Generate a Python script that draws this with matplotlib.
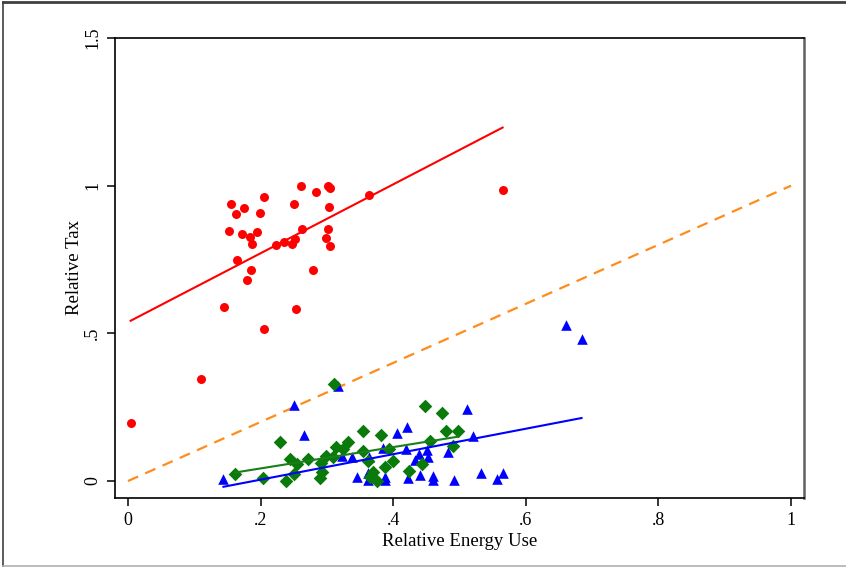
import numpy as np
import matplotlib
matplotlib.use("Agg")
import matplotlib.pyplot as plt
from matplotlib.lines import Line2D

plt.rcParams['font.family'] = ['Liberation Serif', 'DejaVu Serif']

# red circles
red_x = [0.155, 0.163, 0.175, 0.205, 0.199, 0.261, 0.283, 0.302, 0.304, 0.251,
         0.303, 0.364, 0.153, 0.172, 0.184, 0.195, 0.187, 0.223, 0.236, 0.247,
         0.252, 0.262, 0.302, 0.298, 0.305, 0.164, 0.186, 0.180, 0.279, 0.145,
         0.253, 0.205, 0.110, 0.004, 0.565]
red_y = [0.937, 0.905, 0.923, 0.963, 0.909, 1.000, 0.977, 1.000, 0.992, 0.938,
         0.927, 0.969, 0.847, 0.835, 0.825, 0.842, 0.804, 0.800, 0.808, 0.804,
         0.820, 0.855, 0.855, 0.823, 0.796, 0.750, 0.715, 0.680, 0.716, 0.589,
         0.581, 0.514, 0.346, 0.198, 0.985]

# blue triangles
blue_x = [0.144, 0.250, 0.265, 0.317, 0.421, 0.406, 0.385, 0.420, 0.451, 0.483,
          0.323, 0.338, 0.363, 0.439, 0.433, 0.453, 0.346, 0.362, 0.370, 0.362,
          0.388, 0.387, 0.423, 0.440, 0.460, 0.460, 0.492, 0.512, 0.521, 0.533,
          0.556, 0.565, 0.660, 0.684]
blue_y = [0.007, 0.258, 0.155, 0.322, 0.183, 0.162, 0.113, 0.108, 0.105, 0.097,
          0.084, 0.082, 0.080, 0.091, 0.071, 0.080, 0.015, 0.026, 0.015, 0.003,
          0.013, 0.003, 0.009, 0.020, 0.017, 0.003, 0.003, 0.243, 0.152, 0.026,
          0.006, 0.026, 0.529, 0.482]

# green diamonds
green_x = [0.162, 0.204, 0.238, 0.250, 0.244, 0.255, 0.271, 0.230, 0.291, 0.293,
           0.290, 0.310, 0.448, 0.474, 0.355, 0.381, 0.479, 0.498, 0.332, 0.314,
           0.325, 0.355, 0.394, 0.456, 0.490, 0.299, 0.309, 0.362, 0.399, 0.444,
           0.387, 0.369, 0.424, 0.376, 0.365]
green_y = [0.024, 0.009, 0.000, 0.024, 0.073, 0.057, 0.073, 0.133, 0.061, 0.030,
           0.010, 0.327, 0.253, 0.231, 0.169, 0.156, 0.170, 0.169, 0.133, 0.114,
           0.109, 0.101, 0.108, 0.135, 0.118, 0.084, 0.082, 0.068, 0.069, 0.057,
           0.048, 0.030, 0.033, 0.000, 0.015]

# fitted lines: (intercept, slope)
red_fit = (0.538, 1.166)
blue_fit = (-0.0815, 0.431)
green_fit = (-0.0295, 0.361)

xticks = [0, 0.2, 0.4, 0.6, 0.8, 1]
xtick_labels = ["0", ".2", ".4", ".6", ".8", "1"]
yticks = [0, 0.5, 1, 1.5]
ytick_labels = ["0", ".5", "1", "1.5"]

fig = plt.figure(figsize=(8.46, 5.67), dpi=100)
ax = fig.add_axes([0.1359, 0.1217, 0.8145, 0.8113])

ax.scatter(red_x, red_y, s=42, c="#ff0000", marker="o", linewidths=0, zorder=3)
ax.scatter(blue_x, blue_y, s=58, c="#0000ff", marker="^", linewidths=0, zorder=3)
ax.scatter(green_x, green_y, s=48, c="#0a7a0a", marker="D", linewidths=0, zorder=3)

def fit_line(xs, fit, color):
    xr = np.array([min(xs), max(xs)])
    ax.plot(xr, fit[0] + fit[1] * xr, color=color, lw=1.5, zorder=4)

fit_line(red_x, red_fit, "#ff0000")
fit_line(blue_x, blue_fit, "#0000ff")
fit_line(green_x, green_fit, "#1a7f1a")

ax.plot([0, 1], [0, 1], color="#ff8c1a", lw=1.6, ls=(0, (5, 3.5)), zorder=2)

ax.set_xlim(-0.0196, 1.0196)
ax.set_ylim(-0.0574, 1.497)
ax.set_xticks(xticks)
ax.set_xticklabels(xtick_labels)
ax.set_yticks(yticks)
ax.set_yticklabels(ytick_labels, rotation=90, va="center")
ax.tick_params(direction="out", length=6, width=1.1, labelsize=13, pad=4)
ax.set_xlabel("Relative Energy Use", fontsize=13.5, labelpad=3)
ax.set_ylabel("Relative Tax", fontsize=13.5, labelpad=1)
for sp in ax.spines.values():
    sp.set_linewidth(1.2)
ax.spines["right"].set_color("#606060")
ax.spines["right"].set_linewidth(1.8)

# outer frame of the picture
fig.add_artist(Line2D([0.003, 1], [0.996, 0.996], transform=fig.transFigure, color="#404040", lw=2))
fig.add_artist(Line2D([0.003, 0.003], [0.002, 0.996], transform=fig.transFigure, color="#404040", lw=1.2))
fig.add_artist(Line2D([0.003, 1], [0.002, 0.002], transform=fig.transFigure, color="#b0b0b0", lw=1.2))

fig.savefig("out.png", dpi=100)
